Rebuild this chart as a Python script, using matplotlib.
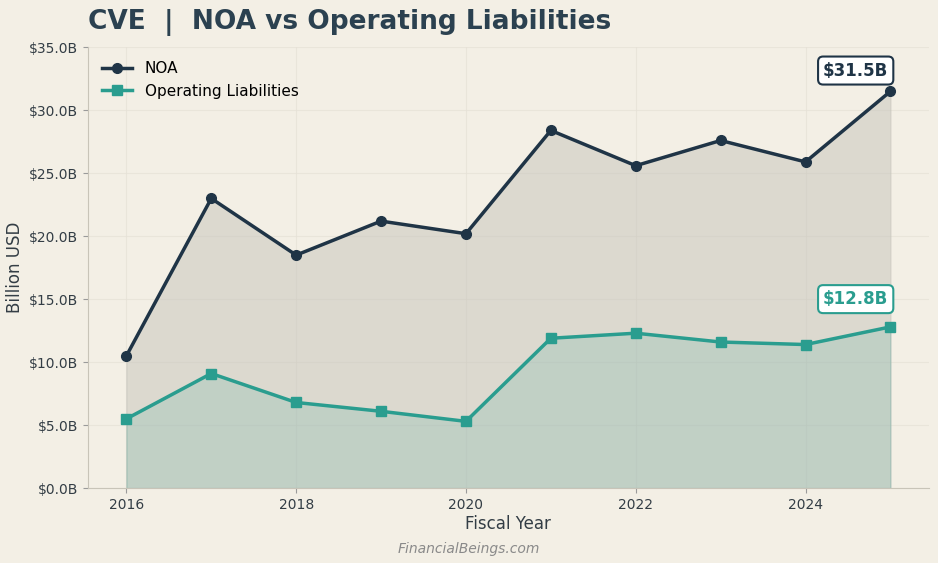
import matplotlib.pyplot as plt
from matplotlib.ticker import FuncFormatter

# data (billion USD)
years = [2016, 2017, 2018, 2019, 2020, 2021, 2022, 2023, 2024, 2025]
noa = [10.5, 23.0, 18.5, 21.2, 20.2, 28.4, 25.6, 27.6, 25.9, 31.5]
op_liab = [5.5, 9.1, 6.8, 6.1, 5.3, 11.9, 12.3, 11.6, 11.4, 12.8]

NAVY = "#1f3446"
TEAL = "#2a9d8f"
BG = "#f3efe5"

fig = plt.figure(figsize=(9.38, 5.63), dpi=100, facecolor=BG)
ax = fig.add_axes([0.094, 0.133, 0.896, 0.783])
ax.set_facecolor(BG)

# shaded areas
ax.fill_between(years, noa, color="#c6c4bb", alpha=0.5, zorder=1)
ax.fill_between(years, op_liab, color=TEAL, alpha=0.15, zorder=2)

ax.plot(years, noa, color=NAVY, lw=2.5, marker="o", ms=7, label="NOA", zorder=4)
ax.plot(years, op_liab, color=TEAL, lw=2.5, marker="s", ms=7,
        label="Operating Liabilities", zorder=4)

# end labels
ax.annotate(f"${noa[-1]:.1f}B", (years[-1], noa[-1]), xytext=(-25, 15),
            textcoords="offset points", ha="center", va="center", fontsize=12,
            fontweight="bold", color=NAVY,
            bbox=dict(boxstyle="round,pad=0.3", fc="white", ec=NAVY, lw=1.5))
ax.annotate(f"${op_liab[-1]:.1f}B", (years[-1], op_liab[-1]), xytext=(-25, 20),
            textcoords="offset points", ha="center", va="center", fontsize=12,
            fontweight="bold", color=TEAL,
            bbox=dict(boxstyle="round,pad=0.3", fc="white", ec=TEAL, lw=1.5))

ax.set_ylim(0, 35)
ax.set_xlim(2015.55, 2025.45)
ax.set_yticks([0, 5, 10, 15, 20, 25, 30, 35])
ax.yaxis.set_major_formatter(FuncFormatter(lambda v, p: f"${v:.1f}B"))
ax.set_xticks([2016, 2018, 2020, 2022, 2024])

ax.grid(True, color="#e6e1d6", lw=0.8, alpha=0.7)
ax.set_axisbelow(True)
for s in ["top", "right"]:
    ax.spines[s].set_visible(False)
for s in ["left", "bottom"]:
    ax.spines[s].set_color("#c8c4b8")
ax.tick_params(colors="#333d45", labelsize=10)
ax.tick_params(axis="both", color="#9a9a9a")

ax.set_xlabel("Fiscal Year", fontsize=12, color="#333d45", labelpad=2)
ax.set_ylabel("Billion USD", fontsize=12, color="#333d45")
ax.set_title("CVE  |  NOA vs Operating Liabilities", loc="left", fontsize=19,
             fontweight="bold", color="#2b4150", pad=13)

leg = ax.legend(loc="upper left", frameon=False, fontsize=11)

fig.text(0.5, 0.018, "FinancialBeings.com", ha="center", fontsize=10,
         style="italic", color="#8a8a8a")

fig.savefig("out.png", dpi=100, facecolor=BG)
